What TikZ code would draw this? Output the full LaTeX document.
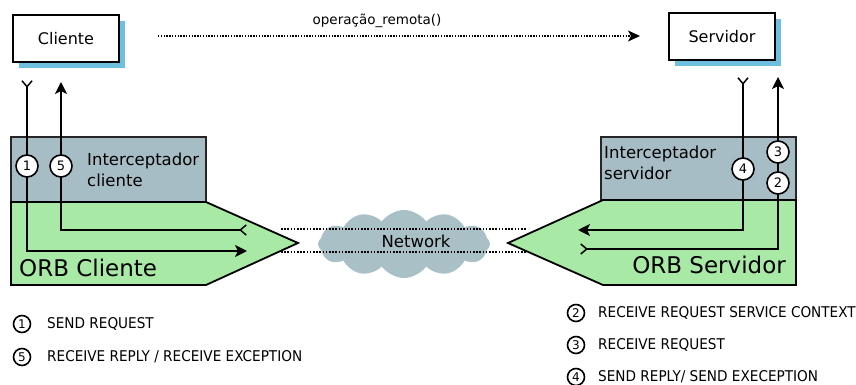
\documentclass[tikz,border=0pt]{standalone}
\usepackage{fontspec}
\setmainfont{DejaVu Sans}
\newfontfamily\legendfont[FakeStretch=0.92]{DejaVu Sans}
\usetikzlibrary{arrows.meta,shapes.symbols,shadows}
\definecolor{shadowblue}{RGB}{110,192,222}
\definecolor{intgray}{RGB}{167,189,197}
\definecolor{orbgreen}{RGB}{168,233,165}
\definecolor{cloudgray}{RGB}{170,192,199}
\begin{document}
\begin{tikzpicture}[x=1pt,y=-1pt,
  objbox/.style={draw=black, line width=1.8pt, fill=white, minimum width=106pt, minimum height=47pt, inner sep=0pt,
    font=\fontsize{16}{19}\selectfont,
    general shadow={fill=shadowblue, draw=none, shadow xshift=6pt, shadow yshift=-6pt}},
  intbox/.style={draw=black!85, line width=1.6pt, fill=intgray},
  orbshape/.style={draw=black, line width=1.8pt, fill=orbgreen},
  conn/.style={line width=1.8pt, draw=black},
  tailtip/.tip={Straight Barb[reversed, length=6pt, width=10pt, line width=1.5pt]},
  headtip/.tip={Stealth[length=12pt, width=12pt, inset=3pt]},
  num/.style={circle, draw=black, fill=white, line width=1.6pt, minimum size=22pt, inner sep=0pt, font=\fontsize{13}{13}\selectfont},
  lnum/.style={circle, draw=black, line width=1.6pt, minimum size=17pt, inner sep=0pt, font=\fontsize{12}{12}\selectfont},
  ltext/.style={anchor=west, inner sep=0pt, font=\legendfont\fontsize{14.8}{15}\selectfont},
  dotline/.style={line width=1.6pt, dash pattern=on 1.6pt off 1.6pt},
  lbl/.style={inner sep=0pt, font=\fontsize{16.5}{21}\selectfont, align=left, anchor=west},
  orblbl/.style={inner sep=0pt, font=\fontsize{23}{26}\selectfont}
]
\useasboundingbox (0,0) rectangle (856,385);

% top objects
\node[objbox] (cliente) at (66,38.5) {Cliente};
\node[objbox] (servidor) at (722,36.5) {Servidor};

% remote call
\coordinate (callS) at (158,36);
\coordinate (callE) at (640,36);
\draw[line width=1.4pt, dash pattern=on 1.4pt off 1.4pt, -{Stealth[length=12pt, width=11pt, inset=3pt]}] (callS) -- (callE);
\node[inner sep=0pt, font=\fontsize{13.5}{14}\selectfont] (oplbl) at (377,21) {operação\_remota()};

% interceptors
\draw[intbox] (11,137) rectangle (206,202);
\draw[intbox] (601,137) rectangle (796,200);
\node[lbl] (intcli) at (87,170) {Interceptador\\cliente};
\node[lbl] (intsrv) at (604,163) {Interceptador\\servidor};

% ORBs
\draw[orbshape] (11,202) -- (206,202) -- (298,243) -- (206,285) -- (11,285) -- cycle;
\draw[orbshape] (796,200) -- (603,200) -- (508,243) -- (603,285) -- (796,285) -- cycle;
\node[orblbl, anchor=west] (orbcli) at (19,268) {ORB Cliente};
\node[orblbl, anchor=east] (orbsrv) at (786,265) {ORB Servidor};

% network
\node[cloud, cloud puffs=12, cloud puff arc=110, aspect=2.6, fill=cloudgray, draw=none,
      minimum width=172pt, minimum height=68pt, inner sep=0pt] (net) at (404,244) {};
\node[inner sep=0pt, font=\fontsize{16.5}{18}\selectfont] (netlbl) at (416,241) {Network};
\coordinate (n1s) at (281,229);
\coordinate (n1e) at (527,229);
\coordinate (n2s) at (281,252);
\coordinate (n2e) at (527,252);
\draw[dotline] (n1s) -- (n1e);
\draw[dotline] (n2s) -- (n2e);

% client flows
\coordinate (p1s) at (27,80);
\coordinate (p1e) at (247,251);
\draw[conn, tailtip-headtip] (p1s) -- (p1s |- p1e) -- (p1e);
\coordinate (p5s) at (247,230);
\coordinate (p5e) at (61,82);
\draw[conn, tailtip-headtip] (p5s) -- (p5e |- p5s) -- (p5e);
\node[num] (c1) at (27,166) {1};
\node[num] (c5) at (61,166) {5};

% server flows
\coordinate (p4s) at (743,77);
\coordinate (p4e) at (578,230);
\draw[conn, tailtip-headtip] (p4s) -- (p4s |- p4e) -- (p4e);
\coordinate (p2s) at (580,249);
\coordinate (p2e) at (778,77);
\draw[conn, tailtip-headtip] (p2s) -- (p2e |- p2s) -- (p2e);
\node[num] (c4) at (743,169) {4};
\node[num] (c2) at (778,183) {2};
\node[num] (c3) at (778,152) {3};

% legend
\node[lnum] (l1) at (22,324) {1};
\node[ltext] (t1) at (47,324) {SEND REQUEST};
\node[lnum] (l5) at (22,357) {5};
\node[ltext] (t5) at (47,357) {RECEIVE REPLY / RECEIVE EXCEPTION};
\node[lnum] (l2) at (576,313) {2};
\node[ltext] (t2) at (598,313) {RECEIVE REQUEST SERVICE CONTEXT};
\node[lnum] (l3) at (576,345) {3};
\node[ltext] (t3) at (598,345) {RECEIVE REQUEST};
\node[lnum] (l4) at (576,377) {4};
\node[ltext] (t4) at (598,377) {SEND REPLY/ SEND EXECEPTION};
\end{tikzpicture}
\end{document}
